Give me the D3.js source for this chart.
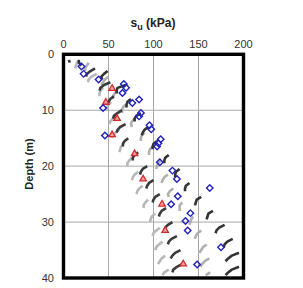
<!DOCTYPE html>
<html><head><meta charset="utf-8">
<script src="https://cdn.jsdelivr.net/npm/d3@7"></script>
<style>body{margin:0;background:#fff}svg{display:block}</style>
</head><body>
<svg id="c" width="303" height="288"></svg>
<script>
// Depth grid (m) shared by the profiles
const depth = [1,1.5,2,2.5,3,3.5,4,4.5,5,5.5,6,6.5,7,7.5,8,8.5,9,9.5,10,10.5,11,11.5,12,12.5,13,13.5,14,14.5,15,15.5,16,16.5,17,17.5,18,18.5,19,19.5,20,20.5,21,21.5,22,22.5,23,23.5,24,24.5,25,25.5,26,26.5,27,27.5,28,28.5,29,29.5,30,30.5,31,31.5,32,32.5,33,33.5,34,34.5,35,35.5,36,36.5,37,37.5,38,38.5,39,39.5];
// su profiles (kPa), null = gap
const profGray1 = [18,15,14,13,null,37,31,28,27,null,44,41,40,40,null,53,50,48,48,null,59,55,52,51,null,62,58,55,54,null,67,64,63,62,null,76,73,71,71,null,83,79,77,76,null,88,84,82,81,null,94,91,89,89,null,102,98,97,96,null,107,103,100,99,null,110,106,103,102,null,113,109,107,105,null,117,112,110];
const profDark1 = [6,7,null,35,30,26,25,null,52,45,41,40,null,56,52,50,49,null,65,60,56,55,null,69,63,60,59,null,72,68,66,66,null,83,79,77,77,null,93,88,86,85,null,100,95,93,92,null,107,102,100,99,null,114,109,107,106,null,121,116,113,112,null,126,120,117,116,null,130,124,121,119,null,132,126,122,121,null];
const profGray2 = [null,28,26,24,24,null,50,46,44,42,null,60,57,55,55,null,69,66,65,65,null,79,76,75,76,null,90,87,86,86,null,99,96,95,95,null,108,105,104,103,null,116,112,110,109,null,122,118,116,117,null,132,129,129,129,null,144,142,141,140,null,153,149,147,146,null,159,155,153,151,null,162,157,154,152,null,163,158];
const profDark2 = [17,17,20,null,49,45,42,43,null,69,60,59,59,null,75,71,70,70,null,86,81,79,79,null,94,90,88,87,null,104,100,99,99,null,117,113,112,112,null,129,125,124,124,null,140,136,135,135,null,153,148,147,146,null,166,161,160,159,null,179,173,170,169,null,188,182,179,178,null,195,187,183,180,null,195,187,183,180];

// Measured points
const vaneSu = [20,22.3,39,67,69.5,65.5,84,76.5,44,86,84,95.5,97.5,46,108,105.5,104,107,121,126,162.5,127,119.6,141,135.5,138,175,148.5];
const vaneZ  = [2.2,3.5,4.5,5.3,6,6.9,8.1,8.7,9.6,10.5,11.1,12.7,13.4,14.5,15.2,15.9,16.5,19.3,20.8,22.3,23.9,25.4,26.8,28.4,29.8,31.5,34.5,37.6];
const triSu = [54,47,59.5,54,79,88.5,109.5,113,133];
const triZ  = [6.1,8.6,11.5,14.4,17.8,22.3,26.8,31.5,37.5];

const xTicks = [0,50,100,150,200];
const yTicks = [0,10,20,30,40];

const svg = d3.select("#c");
const x = d3.scaleLinear().domain([0,200]).range([63.5,243.5]);
const y = d3.scaleLinear().domain([0,40]).range([54.3,278]);
const font = "'Liberation Sans', Arial, sans-serif";

// grid
svg.append("g").selectAll("line").data([50,100,150]).join("line")
  .attr("x1",d=>x(d)).attr("x2",d=>x(d)).attr("y1",y(0)).attr("y2",y(40))
  .attr("stroke","#a8a8a8").attr("stroke-width",1);
svg.append("g").selectAll("line").data([10,20,30]).join("line")
  .attr("y1",d=>y(d)).attr("y2",d=>y(d)).attr("x1",x(0)).attr("x2",x(200))
  .attr("stroke","#a8a8a8").attr("stroke-width",1);

// profiles
const profiles = [
  {v:profGray1, c:"#b8b8b8"},
  {v:profGray2, c:"#b0b0b0"},
  {v:profDark1, c:"#3a3a3a"},
  {v:profDark2, c:"#333333"}
];
const line = d3.line().defined(d=>d[1]!==null).x(d=>x(d[1])).y(d=>y(d[0]));
profiles.forEach(p=>{
  svg.append("path").datum(depth.map((z,i)=>[z,p.v[i]]))
    .attr("d",line).attr("fill","none").attr("stroke",p.c)
    .attr("stroke-width",2.6).attr("stroke-linejoin","round");
});

// triangles
const tri = d3.symbol().type(d3.symbolTriangle).size(18);
svg.append("g").selectAll("path").data(triSu.map((s,i)=>[s,triZ[i]])).join("path")
  .attr("d",tri).attr("transform",d=>`translate(${x(d[0])},${y(d[1])})`)
  .attr("fill","#f2a0a0").attr("stroke","#d42a2a").attr("stroke-width",1.3);

// diamonds
svg.append("g").selectAll("rect").data(vaneSu.map((s,i)=>[s,vaneZ[i]])).join("rect")
  .attr("x",-2.3).attr("y",-2.3).attr("width",4.6).attr("height",4.6)
  .attr("transform",d=>`translate(${x(d[0])},${y(d[1])}) rotate(45)`)
  .attr("fill","none").attr("stroke","#2222bb").attr("stroke-width",1.4);

// frame
svg.append("rect").attr("x",x(0)).attr("y",y(0)).attr("width",x(200)-x(0)).attr("height",y(40)-y(0))
  .attr("fill","none").attr("stroke","#000").attr("stroke-width",3.4);

// tick labels
svg.append("g").selectAll("text").data(xTicks).join("text")
  .attr("x",d=>x(d)).attr("y",48).attr("text-anchor","middle")
  .attr("font-family",font).attr("font-size",11).attr("fill","#333").text(d=>d);
svg.append("g").selectAll("text").data(yTicks).join("text")
  .attr("x",54).attr("y",d=>y(d)+4).attr("text-anchor","end")
  .attr("font-family",font).attr("font-size",11).attr("fill","#333").text(d=>d);

// titles
const t = svg.append("text").attr("x",153).attr("y",27).attr("text-anchor","middle")
  .attr("font-family",font).attr("font-size",12).attr("font-weight","bold").attr("fill","#222");
t.append("tspan").text("s");
t.append("tspan").attr("font-size",9).attr("dy",2.5).text("u");
t.append("tspan").attr("dy",-2.5).text(" (kPa)");

svg.append("text").attr("transform","translate(33,164) rotate(-90)").attr("text-anchor","middle")
  .attr("font-family",font).attr("font-size",11).attr("font-weight","bold").attr("fill","#222")
  .text("Depth (m)");
</script>
</body></html>
